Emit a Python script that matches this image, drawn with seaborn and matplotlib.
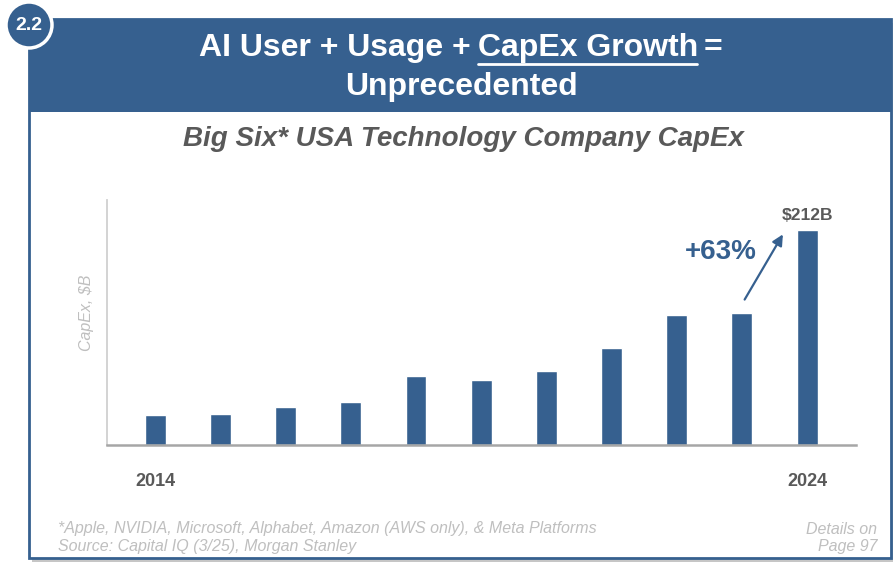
import matplotlib
matplotlib.use("Agg")
import matplotlib.pyplot as plt
from matplotlib.patches import Rectangle, Ellipse
import seaborn as sns

years = ["2014", "2015", "2016", "2017", "2018", "2019", "2020", "2021", "2022", "2023", "2024"]
capex = [29.5, 31, 37, 42, 68, 64, 73, 96, 128, 130, 212]
shown_years = ["2014", "2024"]

blue = "#36608f"
grey_txt = "#595959"
light_txt = "#bfbfbf"

sns.set_theme(style="white")
plt.rcParams["font.family"] = ["Liberation Sans", "DejaVu Sans"]

W, H = 894, 563
fig = plt.figure(figsize=(W / 100, H / 100), dpi=100)

def fx(px):
    return px / W

def fy(py):
    return 1 - py / H

# frame shadow + border
fig.patches.append(Rectangle((fx(32), fy(562)), fx(893) - fx(32), fy(23) - fy(562),
                             transform=fig.transFigure, facecolor="#a0a0a0", edgecolor="none",
                             alpha=0.6, zorder=-3))
fig.patches.append(Rectangle((fx(29), fy(558)), fx(891) - fx(29), fy(19) - fy(558),
                             transform=fig.transFigure, facecolor="white", edgecolor=blue,
                             lw=2, zorder=-2))
# header band
fig.patches.append(Rectangle((fx(29), fy(112)), fx(892) - fx(29), fy(19) - fy(112),
                             transform=fig.transFigure, facecolor=blue, edgecolor="none", zorder=-1))

ax = fig.add_axes([fx(107), fy(445), fx(856) - fx(107), fy(200) - fy(445)])
ax.patch.set_alpha(0)
sns.barplot(x=years, y=capex, color=blue, width=0.32, saturation=1, ax=ax)
ax.set_xlim(-0.74, 10.75)
ax.set_ylim(0, 241.5)
ax.set_yticks([])
ax.set_xticks(range(len(years)))
ax.set_xticklabels([y if y in shown_years else "" for y in years],
                   fontsize=13, fontweight="bold", color=grey_txt)
ax.tick_params(axis="x", length=0, pad=20)
for s in ["top", "right"]:
    ax.spines[s].set_visible(False)
ax.spines["left"].set_color("#d0d0d0")
ax.spines["bottom"].set_color("#a6a6a6")
ax.spines["left"].set_linewidth(1.3)
ax.spines["bottom"].set_linewidth(1.8)
ax.set_xlabel("")
ax.set_ylabel("CapEx, $B", fontsize=11.5, style="italic", color=light_txt)
ax.yaxis.set_label_coords(-0.017, 0.54)

last = len(years) - 1
ax.text(last, capex[-1] + 7, "$212B", ha="center", va="bottom",
        fontsize=12.5, fontweight="bold", color=grey_txt)
ax.annotate("", xy=(last - 0.35, capex[-1] - 2), xytext=(last - 0.98, capex[-2] + 11),
            arrowprops=dict(arrowstyle="-|>", color=blue, lw=1.6, mutation_scale=16))
ax.text(last - 1.33, 190, "+63%", ha="center", va="center",
        fontsize=20, fontweight="bold", color=blue)

# badge circle
r = 23
badge = Ellipse((fx(29), fy(25)), 2 * r / W, 2 * r / H, transform=fig.transFigure,
                facecolor=blue, edgecolor="white", lw=2.5, zorder=5)
fig.patches.append(badge)
fig.text(fx(29), fy(25), "2.2", ha="center", va="center", color="white",
         fontsize=14, fontweight="bold", zorder=6)

# header title
fig.text(fx(199), fy(48), "AI User + Usage + ", ha="left", va="center",
         color="white", fontsize=23, fontweight="bold")
fig.text(fx(478), fy(48), "CapEx Growth", ha="left", va="center",
         color="white", fontsize=23, fontweight="bold")
fig.lines.append(plt.Line2D([fx(478), fx(697)], [fy(64), fy(64)],
                            transform=fig.transFigure, color="white", lw=2))
fig.text(fx(704), fy(48), "=", ha="left", va="center",
         color="white", fontsize=23, fontweight="bold")
fig.text(fx(461), fy(87), "Unprecedented", ha="center", va="center",
         color="white", fontsize=23, fontweight="bold")

fig.text(fx(463), fy(139), "Big Six* USA Technology Company CapEx", ha="center", va="center",
         color=grey_txt, fontsize=20, fontweight="bold", style="italic")

# footer
fig.text(fx(58), fy(529), "*Apple, NVIDIA, Microsoft, Alphabet, Amazon (AWS only), & Meta Platforms",
         ha="left", va="center", color=light_txt, fontsize=11.5, style="italic")
fig.text(fx(58), fy(546), "Source: Capital IQ (3/25), Morgan Stanley",
         ha="left", va="center", color=light_txt, fontsize=11.5, style="italic")
fig.text(fx(877), fy(529), "Details on", ha="right", va="center",
         color=light_txt, fontsize=11.5, style="italic")
fig.text(fx(877), fy(546), "Page 97", ha="right", va="center",
         color=light_txt, fontsize=11.5, style="italic")

fig.savefig("out.png", dpi=100)
